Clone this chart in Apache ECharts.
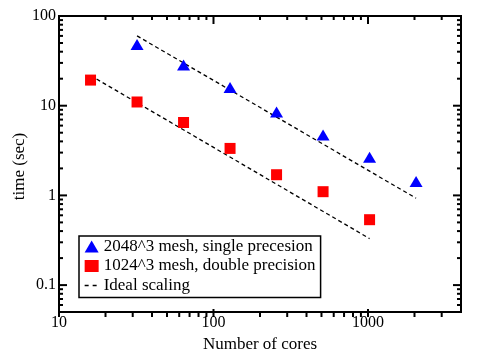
<!DOCTYPE html>
<html>
<head>
<meta charset="utf-8">
<script src="https://cdn.jsdelivr.net/npm/echarts@6/dist/echarts.min.js"></script>
<style>html,body{margin:0;padding:0;background:#fff;}#c{width:499px;height:358px;}</style>
</head>
<body>
<div id="c"></div>
<script>
// --- data ---
const singleCores = [32, 64, 128, 256, 512, 1024, 2048];
const singleTime  = [48, 28.4, 16.0, 8.5, 4.7, 2.66, 1.43];
const doubleCores = [16, 32, 64, 128, 256, 512, 1024];
const doubleTime  = [19.3, 11.0, 6.5, 3.34, 1.70, 1.10, 0.536];
const idealSingleCores = [32, 2048];
const idealSingleTime  = [60, 0.93];
const idealDoubleCores = [16, 1024];
const idealDoubleTime  = [21.7, 0.33];
// tick values
const xMajorTicks = [10, 100, 1000];
const xMinorTicks = [20,30,40,50,60,70,80,90,200,300,400,500,600,700,800,900,2000,3000];
const yMajorTicks = [0.1, 1, 10, 100];
const yMinorTicks = [0.06,0.07,0.08,0.09,0.2,0.3,0.4,0.5,0.6,0.7,0.8,0.9,2,3,4,5,6,7,8,9,20,30,40,50,60,70,80,90];
const xLabels = ['10', '100', '1000'];
const yLabels = ['0.1', '1', '10', '100'];

const FONT = 'Liberation Serif';
const names = {
  single: '2048^3 mesh, single precesion',
  dbl: '1024^3 mesh, double precision',
  ideal: 'Ideal scaling'
};

function pairs(xs, ys) { return xs.map((x, i) => [x, ys[i]]); }
function fmtLabel(list) {
  return function (v) {
    const l = Math.log10(v);
    if (Math.abs(l - Math.round(l)) > 1e-6) return '';
    const e = Math.round(l);
    const s = list.find(t => Math.abs(Math.log10(parseFloat(t)) - e) < 1e-6);
    return s || '';
  };
}

const chart = echarts.init(document.getElementById('c'), null, { renderer: 'canvas' });
const GRID = { left: 59, right: 38, top: 16, bottom: 41 };
chart.setOption({
  animation: false,
  backgroundColor: '#fff',
  textStyle: { fontFamily: FONT },
  grid: Object.assign({ show: true, borderColor: '#000', borderWidth: 2, backgroundColor: 'transparent' }, GRID),
  xAxis: {
    type: 'log', logBase: 10, min: 10, max: 4000,
    name: 'Number of cores', nameLocation: 'middle', nameGap: 17,
    nameTextStyle: { fontFamily: FONT, fontSize: 17, color: '#000' },
    axisLine: { show: false }, axisTick: { show: false }, splitLine: { show: false },
    axisLabel: { margin: 3, fontFamily: FONT, fontSize: 16, color: '#000', formatter: fmtLabel(xLabels) }
  },
  yAxis: {
    type: 'log', logBase: 10, min: 0.05, max: 100,
    axisLine: { show: false }, axisTick: { show: false }, splitLine: { show: false },
    axisLabel: { margin: 3, fontFamily: FONT, fontSize: 16, color: '#000', formatter: fmtLabel(yLabels) }
  },
  legend: {
    orient: 'vertical', left: 79, top: 236,
    padding: [2, 5, 3.5, 5],
    itemWidth: 14, itemHeight: 12, itemGap: 2.5, itemTextGap: 12,
    borderColor: '#000', borderWidth: 1.5, backgroundColor: '#fff',
    textStyle: { fontFamily: FONT, fontSize: 17, color: '#000', lineHeight: 17 },
    data: [
      { name: names.single, icon: 'triangle' },
      { name: names.dbl, icon: 'rect' },
      { name: names.ideal, itemStyle: { opacity: 0 }, lineStyle: { type: [4, 4], width: 1.3 } }
    ]
  },
  series: [
    {
      name: names.ideal, type: 'line', symbol: 'none', data: pairs(idealSingleCores, idealSingleTime),
      lineStyle: { color: '#000', width: 1.3, type: [4, 3] }, itemStyle: { color: '#000' }, z: 2
    },
    {
      name: names.ideal, type: 'line', symbol: 'none', data: pairs(idealDoubleCores, idealDoubleTime),
      lineStyle: { color: '#000', width: 1.3, type: [4, 3] }, itemStyle: { color: '#000' }, z: 2
    },
    {
      name: names.single, type: 'scatter', symbol: 'triangle', symbolSize: [13, 11],
      data: pairs(singleCores, singleTime), itemStyle: { color: '#0000ff', opacity: 1 }, z: 3
    },
    {
      name: names.dbl, type: 'scatter', symbol: 'rect', symbolSize: 11,
      data: pairs(doubleCores, doubleTime), itemStyle: { color: '#ff0000', opacity: 1 }, z: 3
    }
  ]
});

// ticks on all four sides, placed through the axes' own scales
const W = chart.getWidth(), H = chart.getHeight();
const gl = GRID.left, gr = W - GRID.right, gt = GRID.top, gb = H - GRID.bottom;
const st = { stroke: '#000', lineWidth: 2 };
const g = [];
function xt(v, len) {
  const x = chart.convertToPixel({ xAxisIndex: 0 }, v);
  g.push({ type: 'line', silent: true, z: 5, shape: { x1: x, y1: gb, x2: x, y2: gb - len }, style: st });
  g.push({ type: 'line', silent: true, z: 5, shape: { x1: x, y1: gt, x2: x, y2: gt + len }, style: st });
}
function yt(v, len) {
  const y = chart.convertToPixel({ yAxisIndex: 0 }, v);
  g.push({ type: 'line', silent: true, z: 5, shape: { x1: gl, y1: y, x2: gl + len, y2: y }, style: st });
  g.push({ type: 'line', silent: true, z: 5, shape: { x1: gr, y1: y, x2: gr - len, y2: y }, style: st });
}
xMajorTicks.forEach(v => xt(v, 8));
xMinorTicks.forEach(v => xt(v, 4));
yMajorTicks.forEach(v => yt(v, 8));
yMinorTicks.forEach(v => yt(v, 4));
g.push({
  type: 'text', x: 20, y: (gt + gb) / 2, rotation: Math.PI / 2, silent: true,
  style: { text: 'time (sec)', fontFamily: FONT, fontSize: 17, fill: '#000', align: 'center', verticalAlign: 'middle' }
});
chart.setOption({ graphic: g });
</script>
</body>
</html>
